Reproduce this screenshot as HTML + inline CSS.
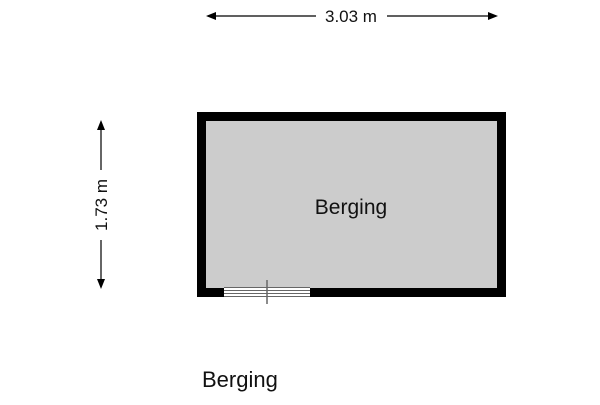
<!DOCTYPE html>
<html><head><style>body{margin:0;background:#fff}</style></head><body>
<svg width="600" height="400" xmlns="http://www.w3.org/2000/svg" font-family="Liberation Sans, sans-serif">
<rect width="600" height="400" fill="#fff"/>
<rect x="197" y="112" width="309" height="185" fill="#000"/>
<rect x="206" y="121" width="291" height="167" fill="#ccc"/>
<rect x="224" y="287" width="86" height="10" fill="#fff"/>
<g stroke="#666" stroke-width="1">
<line x1="224" y1="287.5" x2="310" y2="287.5"/>
<line x1="224" y1="290.5" x2="310" y2="290.5"/>
<line x1="224" y1="293.5" x2="310" y2="293.5"/>
<line x1="224" y1="296.5" x2="310" y2="296.5"/>
<line x1="267" y1="280" x2="267" y2="304" stroke-width="1.5"/>
</g>
<text x="351" y="214" font-size="21" text-anchor="middle" fill="#111">Berging</text>
<g stroke="#000" stroke-width="1.2">
<line x1="208" y1="16" x2="316" y2="16"/>
<line x1="387" y1="16" x2="496" y2="16"/>
<line x1="101" y1="123" x2="101" y2="170"/>
<line x1="101" y1="240" x2="101" y2="286"/>
</g>
<polygon points="206,16 216,12 216,20"/>
<polygon points="498,16 488,12 488,20"/>
<polygon points="101,120 97,130 105,130"/>
<polygon points="101,289 97,279 105,279"/>
<text x="351" y="22" font-size="17" text-anchor="middle" fill="#111">3.03 m</text>
<text x="0" y="0" font-size="17" text-anchor="middle" fill="#111" transform="translate(107,205) rotate(-90)">1.73 m</text>
<text x="202" y="387" font-size="22" fill="#111">Berging</text>
</svg>
</body></html>
